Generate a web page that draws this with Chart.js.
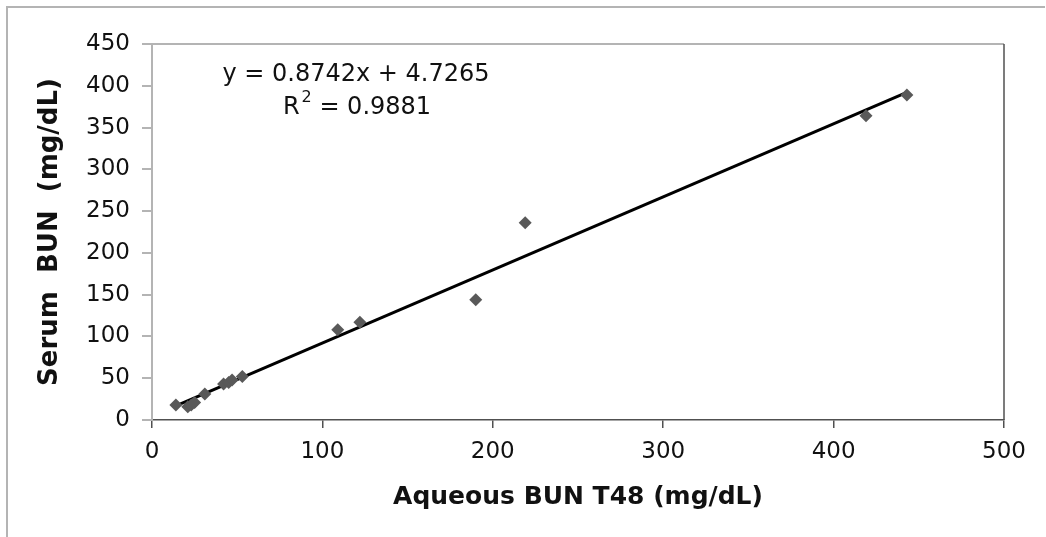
<!DOCTYPE html>
<html>
<head>
<meta charset="utf-8">
<script src="https://cdn.jsdelivr.net/npm/chart.js@4/dist/chart.umd.min.js"></script>
<style>
  html, body { margin: 0; padding: 0; background: #fff; }
  #wrap { width: 1046px; height: 537px; position: relative; }
</style>
</head>
<body>
<div id="wrap"><canvas id="bunChart" width="1046" height="537"></canvas></div>
<script>
// Aqueous vs serum BUN values (mg/dL)
const aqueousBun = [14, 21, 23, 25, 31, 42, 45, 47, 53, 109, 122, 190, 219, 419, 443];
const serumBun   = [18, 16, 18, 21, 31, 43, 45, 48, 52, 108, 117, 144, 236, 364, 389];

// trendline as printed on the chart
const slope = 0.8742;
const intercept = 4.7265;
const equationText = "y = 0.8742x + 4.7265";
const rSquaredText = "0.9881";

const xTitle = "Aqueous BUN T48 (mg/dL)";
const yTitle = "Serum  BUN  (mg/dL)";

const points = aqueousBun.map((x, i) => ({ x: x, y: serumBun[i] }));
const xMin = Math.min(...aqueousBun);
const xMax = Math.max(...aqueousBun);
const trend = [
    { x: xMin, y: slope * xMin + intercept },
    { x: xMax, y: slope * xMax + intercept }
];

const fam = "'DejaVu Sans', sans-serif";
const tickFont = { family: fam, size: 23 };

// outer frame, plot box top/right edges and the equation label
const decorations = {
    id: 'decorations',
    beforeDraw(chart) {
        const ctx = chart.ctx;
        ctx.save();
        ctx.strokeStyle = '#b4b4b4';
        ctx.lineWidth = 2;
        ctx.beginPath();
        ctx.moveTo(7, 540);
        ctx.lineTo(7, 7);
        ctx.lineTo(1045, 7);
        ctx.stroke();
        ctx.restore();
    },
    afterDraw(chart) {
        const ctx = chart.ctx;
        const a = chart.chartArea;
        ctx.save();
        ctx.lineWidth = 2;
        ctx.strokeStyle = '#b4b4b4';
        ctx.beginPath();
        ctx.moveTo(a.left, a.top);
        ctx.lineTo(a.right, a.top);
        ctx.stroke();
        ctx.strokeStyle = '#505050';
        ctx.lineWidth = 1.5;
        ctx.beginPath();
        ctx.moveTo(a.right, a.top);
        ctx.lineTo(a.right, a.bottom);
        ctx.stroke();

        // equation
        const big = "24px " + fam, small = "16px " + fam;
        ctx.fillStyle = '#111';
        ctx.font = big;
        ctx.textBaseline = 'middle';
        ctx.textAlign = 'center';
        ctx.fillText(equationText, a.left + 204, a.top + 31);
        const rest = " = " + rSquaredText;
        const wR = ctx.measureText("R").width;
        const wRest = ctx.measureText(rest).width;
        ctx.font = small;
        const w2 = ctx.measureText("2").width;
        let x = a.left + 204 - (wR + w2 + wRest) / 2;
        const y = a.top + 64;
        ctx.textAlign = 'left';
        ctx.font = big;
        ctx.fillText("R", x, y);
        ctx.font = small;
        ctx.fillText("2", x + wR + 2, y - 10);
        ctx.font = big;
        ctx.fillText(rest, x + wR + w2 + 2, y);
        ctx.restore();
    }
};

new Chart(document.getElementById('bunChart'), {
    type: 'scatter',
    data: {
        datasets: [
            {
                label: 'BUN',
                data: points,
                pointStyle: 'rectRot',
                pointRadius: 6.5,
                pointHoverRadius: 6.5,
                backgroundColor: '#595959',
                borderColor: '#595959',
                borderWidth: 0
            },
            {
                label: 'Linear',
                data: trend,
                showLine: true,
                pointRadius: 0,
                borderColor: '#000',
                borderWidth: 3
            }
        ]
    },
    options: {
        responsive: false,
        animation: false,
        layout: { padding: { left: 0, top: 44, right: 42, bottom: 0 } },
        plugins: {
            legend: { display: false },
            tooltip: { enabled: false }
        },
        scales: {
            x: {
                type: 'linear',
                min: 0,
                max: 500,
                ticks: { stepSize: 100, color: '#111', font: tickFont, padding: 10, maxRotation: 0 },
                grid: { drawOnChartArea: false, drawTicks: true, tickLength: 8, color: '#505050', lineWidth: 1.5 },
                border: { display: true, color: '#505050', width: 1.5 },
                title: {
                    display: true,
                    text: xTitle,
                    color: '#111',
                    font: { family: fam, size: 25, weight: 'bold' },
                    padding: { top: 0, bottom: 25 }
                },
                afterFit(scale) { scale.height = 117; }
            },
            y: {
                type: 'linear',
                min: 0,
                max: 450,
                ticks: { stepSize: 50, color: '#111', font: tickFont, padding: 12 },
                grid: { drawOnChartArea: false, drawTicks: true, tickLength: 10, color: '#b4b4b4', lineWidth: 2 },
                border: { display: true, color: '#b4b4b4', width: 2 },
                title: {
                    display: true,
                    text: yTitle,
                    color: '#111',
                    font: { family: fam, size: 26, weight: 'bold' },
                    padding: { top: 35, bottom: 0 }
                },
                afterFit(scale) { scale.width = 152; }
            }
        }
    },
    plugins: [decorations]
});
</script>
</body>
</html>
